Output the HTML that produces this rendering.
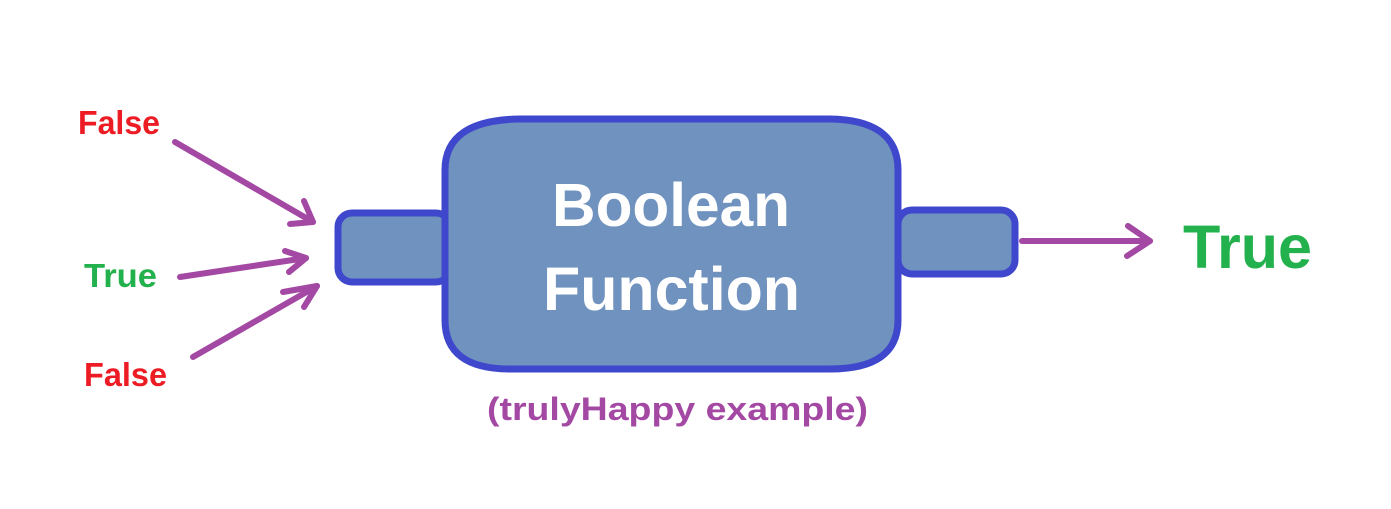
<!DOCTYPE html>
<html><head><meta charset="utf-8"><style>html,body{margin:0;padding:0;background:#fff}svg{display:block}</style></head>
<body>
<svg width="1391" height="509" viewBox="0 0 1391 509" xmlns="http://www.w3.org/2000/svg" font-family="Liberation Sans, sans-serif" font-weight="bold">
<rect x="0" y="0" width="1391" height="509" fill="#fff"/>
<!-- stubs -->
<rect x="338" y="213" width="112" height="69" rx="14" fill="#7092be" stroke="#3f48cc" stroke-width="7"/>
<rect x="898" y="210" width="117" height="64" rx="14" fill="#7092be" stroke="#3f48cc" stroke-width="7"/>
<!-- main box -->
<path d="M445,170 Q445,120 520,119 L830,119 Q898,120 898,170 L898,320 Q898,369 830,369 L510,369 Q445,369 445,320 Z" fill="#7092be" stroke="#3f48cc" stroke-width="7"/>
<text x="552" y="226" font-size="61" fill="#fff" textLength="238" lengthAdjust="spacingAndGlyphs">Boolean</text>
<text x="543" y="310" font-size="61" fill="#fff" textLength="257" lengthAdjust="spacingAndGlyphs">Function</text>
<text x="487" y="420" font-size="32" fill="#a349a4" textLength="381" lengthAdjust="spacingAndGlyphs">(trulyHappy example)</text>
<!-- labels -->
<text x="78" y="134" font-size="33" fill="#ed1c24" textLength="82" lengthAdjust="spacingAndGlyphs">False</text>
<text x="84" y="287" font-size="33" fill="#22b14c" textLength="73" lengthAdjust="spacingAndGlyphs">True</text>
<text x="84" y="386" font-size="33" fill="#ed1c24" textLength="83" lengthAdjust="spacingAndGlyphs">False</text>
<text x="1183" y="268" font-size="61" fill="#22b14c" textLength="129" lengthAdjust="spacingAndGlyphs">True</text>
<!-- arrows -->
<g stroke="#a349a4" stroke-width="6" stroke-linecap="round" stroke-linejoin="round" fill="none">
<path d="M175,142 L313,222"/><path d="M304,201 L313,222 L290,224"/>
<path d="M180,277 L306,258"/><path d="M285,251 L306,258 L289,272"/>
<path d="M193,357 L317,286"/><path d="M283,292 L317,286 L304,307"/>
<path d="M1022,241 L1150,241"/><path d="M1128,226 L1150,241 L1127,256"/>
</g>
</svg>
</body></html>
